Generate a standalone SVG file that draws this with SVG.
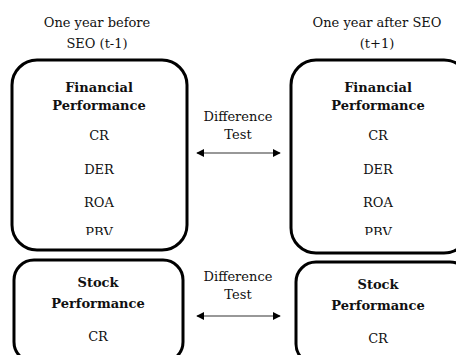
<svg xmlns="http://www.w3.org/2000/svg" width="456" height="355" viewBox="0 0 456 355">
  <defs>
    <style>
      text { font-family: "DejaVu Serif", "Liberation Serif", serif; font-size: 13px; fill: #111; text-anchor: middle; }
      .b { font-weight: bold; }
      .box { fill: #fff; stroke: #000; stroke-width: 3; }
      .conn { stroke: #333; stroke-width: 1.2; fill: none; }
    </style>
    <marker id="ah" viewBox="0 0 10 10" refX="9" refY="5" markerWidth="8" markerHeight="8" markerUnits="userSpaceOnUse" orient="auto-start-reverse">
      <path d="M0,0 L10,5 L0,10 z" fill="#000"/>
    </marker>
    <clipPath id="clipPBV"><rect x="0" y="0" width="456" height="235"/></clipPath>
  </defs>
  <rect width="456" height="355" fill="#fff"/>

  <g id="label-before">
    <text x="97" y="27">One year before</text>
    <text x="97" y="48">SEO (t-1)</text>
  </g>
  <g id="label-after">
    <text x="377" y="27">One year after SEO</text>
    <text x="377" y="48">(t+1)</text>
  </g>

  <g id="fin-before">
    <rect class="box" x="12" y="60" width="175" height="190" rx="25"/>
    <text class="b" x="99" y="92">Financial</text>
    <text class="b" x="99" y="110">Performance</text>
    <text x="99" y="140">CR</text>
    <text x="99" y="174">DER</text>
    <text x="99" y="207">ROA</text>
    <text x="99" y="237" clip-path="url(#clipPBV)">PBV</text>
  </g>

  <g id="fin-after">
    <rect class="box" x="291" y="60" width="178" height="193" rx="25"/>
    <text class="b" x="378" y="92">Financial</text>
    <text class="b" x="378" y="110">Performance</text>
    <text x="378" y="140">CR</text>
    <text x="378" y="174">DER</text>
    <text x="378" y="207">ROA</text>
    <text x="378" y="237" clip-path="url(#clipPBV)">PBV</text>
  </g>

  <g id="stock-before">
    <rect class="box" x="14" y="260" width="169" height="102" rx="20"/>
    <text class="b" x="98" y="287">Stock</text>
    <text class="b" x="98" y="308">Performance</text>
    <text x="98" y="341">CR</text>
  </g>

  <g id="stock-after">
    <rect class="box" x="296" y="262" width="174" height="102" rx="20"/>
    <text class="b" x="378" y="289">Stock</text>
    <text class="b" x="378" y="310">Performance</text>
    <text x="378" y="343">CR</text>
  </g>

  <g id="connectors">
    <text x="238" y="121">Difference</text>
    <text x="238" y="139">Test</text>
    <line class="conn" x1="197" y1="153" x2="280" y2="153" marker-start="url(#ah)" marker-end="url(#ah)"/>
    <text x="238" y="281">Difference</text>
    <text x="238" y="299">Test</text>
    <line class="conn" x1="197" y1="316" x2="280" y2="316" marker-start="url(#ah)" marker-end="url(#ah)"/>
  </g>
</svg>
